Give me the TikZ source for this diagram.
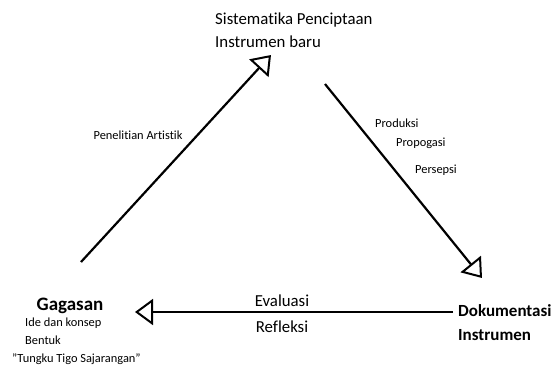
\documentclass[tikz,border=0pt]{standalone}
\usepackage{fontspec}
\setmainfont{Carlito}[Ligatures=NoCommon]
\usetikzlibrary{arrows.meta,positioning}

\begin{document}
\begin{tikzpicture}[
  x=1pt, y=-1pt,
  lbl/.style={inner sep=0pt, font=\fontsize{12.4}{14}\selectfont},
  head/.style={inner sep=0pt, font=\fontsize{16.8}{19}\selectfont},
  bold/.style={inner sep=0pt, font=\bfseries\fontsize{17}{19}\selectfont},
  arr/.style={-{Triangle[open, length=18pt, width=26pt, line width=2pt]}, line width=2.2pt}
]
\useasboundingbox (0,0) rectangle (553,367);
% texts
\node[head, anchor=west] (sis) at (215,20) {Sistematika Penciptaan};
\node[head, anchor=west] (ins) at (215,42) {Instrumen baru};
\node[bold, font=\bfseries\fontsize{19}{21}\selectfont] (gag) at (70,306) {Gagasan};
\node[lbl, anchor=west] (ide) at (25,323) {Ide dan konsep};
\node[lbl, anchor=west] (ben) at (25,340) {Bentuk};
\node[lbl, anchor=west] (tun) at (12,359) {"Tungku Tigo Sajarangan"};
\node[bold, anchor=west] (dok) at (458,311) {Dokumentasi};
\node[bold, anchor=west] (ins2) at (458,335) {Instrumen};
\node[lbl] (pen) at (138,135) {Penelitian Artistik};
\node[lbl, anchor=west] (pro) at (375,123) {Produksi};
\node[lbl, anchor=west] (prg) at (396,143) {Propogasi};
\node[lbl, anchor=west] (per) at (415,170) {Persepsi};
\node[head] (eva) at (282,301) {Evaluasi};
\node[head] (ref) at (282,327) {Refleksi};
% arrow ends
\coordinate (a1) at (81,262);
\coordinate (b1) at (271,55);
\coordinate (a2) at (325,84);
\coordinate (b2) at (482,278);
\coordinate (a3) at (453,312);
\coordinate (b3) at (135,312);

\draw[arr] (a1) -- (b1);
\draw[arr] (a2) -- (b2);
\draw[arr] (a3) -- (b3);
\end{tikzpicture}
\end{document}
